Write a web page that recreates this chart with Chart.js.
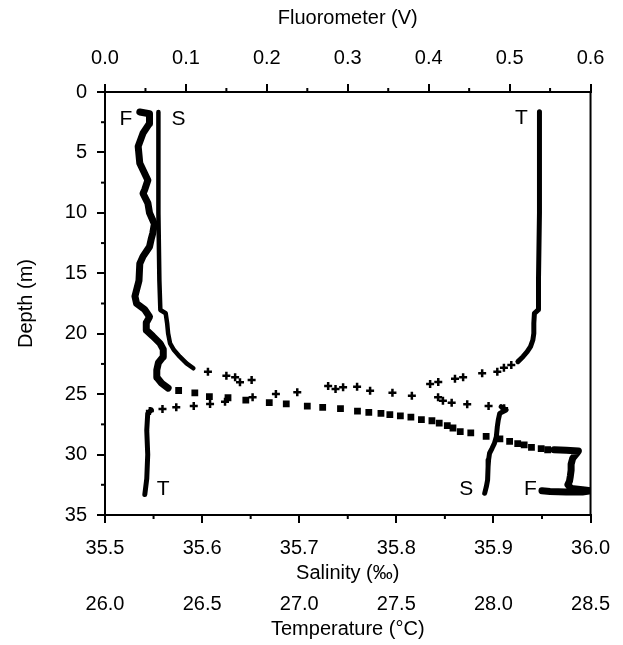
<!DOCTYPE html>
<html>
<head>
<meta charset="utf-8">
<script src="https://cdn.jsdelivr.net/npm/chart.js@4.4.1/dist/chart.umd.min.js"></script>
<style>
html,body{margin:0;padding:0;background:#fff;}
#wrap{width:623px;height:645px;}
</style>
</head>
<body>
<div id="wrap"><canvas id="c" width="623" height="645"></canvas></div>
<script>
// ---------- Fluorometer (V) ----------
const fluorUpper      = [0.043,0.055,0.055,0.047,0.041,0.043,0.053,0.049,0.047,0.053,0.055,0.061,0.059,0.057,0.055,0.047,0.043,0.042,0.037,0.039,0.049,0.055,0.051,0.051,0.059,0.068,0.072,0.072,0.066,0.064,0.064,0.070,0.078];
const fluorUpperDepth = [1.65,1.8,2.6,3.4,4.5,5.9,7.3,8.1,8.4,9.2,10.0,10.9,11.7,12.2,12.8,13.6,14.2,15.6,16.9,17.5,18.0,18.6,19.1,19.7,20.2,20.8,21.3,21.9,22.4,23.0,23.6,24.1,24.5];
const fluorMid        = [0.091,0.111,0.129,0.152,0.174,0.203,0.224,0.250,0.269,0.291,0.312,0.326,0.341,0.352,0.365,0.378,0.391,0.404,0.413,0.423,0.430,0.439,0.452,0.471,0.488,0.500,0.510,0.518,0.527,0.539,0.547];
const fluorMidDepth   = [24.7,24.9,25.2,25.3,25.5,25.7,25.8,26.0,26.1,26.2,26.4,26.5,26.6,26.7,26.8,26.9,27.1,27.2,27.4,27.6,27.8,28.1,28.2,28.5,28.7,28.9,29.1,29.2,29.4,29.5,29.6];
const fluorLower      = [0.555,0.570,0.585,0.583,0.578,0.576,0.576,0.575,0.574,0.572,0.576,0.590,0.600,0.590,0.570,0.550,0.540];
const fluorLowerDepth = [29.6,29.65,29.7,29.9,30.3,30.8,31.3,31.8,32.2,32.5,32.8,32.9,33.0,33.1,33.1,33.05,33.0];

// ---------- Salinity (‰) ----------
const salUpper      = [35.555,35.555,35.555,35.556,35.557,35.5625,35.564,35.565,35.567,35.571,35.577,35.584,35.591];
const salUpperDepth = [1.65,5.0,10.0,15.6,18.04,18.31,19.14,19.97,20.80,21.35,21.90,22.45,22.86];
const salMid        = [35.606,35.625,35.634,35.651,35.639,35.773,35.796,35.816,35.843,35.848,35.857,35.873,35.895,35.911];
const salMidDepth   = [23.14,23.47,23.61,23.83,24.02,24.71,24.88,25.13,25.26,25.54,25.71,25.84,25.98,26.17];
const salLower      = [35.908,35.913,35.9065,35.905,35.904,35.903,35.901,35.8986,35.896,35.895,35.8945,35.894,35.8927,35.891];
const salLowerDepth = [26.04,26.31,26.59,27.14,27.69,28.52,29.07,29.48,29.89,30.45,31.00,32.10,32.66,33.20];

// ---------- Temperature (°C) ----------
const tempUpper      = [28.237,28.237,28.237,28.232,28.232,28.211,28.208,28.208,28.203,28.191,28.174,28.152,28.126];
const tempUpperDepth = [1.63,5.0,10.0,15.6,18.0,18.31,19.14,19.97,20.52,21.07,21.49,21.90,22.31];
const tempMid        = [28.092,28.054,28.020,27.942,27.844,27.802,27.716,27.674,27.298,27.226,27.187,27.149,26.990,26.880,26.760,26.618,26.541,26.457,26.367,26.296,26.231];
const tempMidDepth   = [22.59,22.81,23.14,23.27,23.61,23.72,23.99,24.16,24.38,24.43,24.57,24.33,24.85,24.99,25.26,25.62,25.81,25.98,26.09,26.23,26.39];
const tempLower      = [26.239,26.220,26.215,26.220,26.215,26.205];
const tempLowerDepth = [26.31,26.6,28.0,30.0,32.0,33.3];

// ---------- Axis ranges / ticks ----------
const depthTicks = [0,5,10,15,20,25,30,35];
const fluorTicks = [0.0,0.1,0.2,0.3,0.4,0.5,0.6];
const salTicks   = [35.5,35.6,35.7,35.8,35.9,36.0];
const tempTicks  = [26.0,26.5,27.0,27.5,28.0,28.5];

// ---------- In-plot curve labels (salinity axis units, depth) ----------
const curveLabelText  = ['F','S','T','T','S','F'];
const curveLabelSal   = [35.5215,35.5758,35.9288,35.5599,35.8719,35.9380];
const curveLabelDepth = [2.28,2.28,2.20,32.85,32.85,32.85];

const pts = (xs, ys) => xs.map((v, i) => ({x: v, y: ys[i]}));

const FONT = "'Liberation Sans', Arial, Helvetica, sans-serif";
const FS = 20;
Chart.defaults.font.family = FONT;
Chart.defaults.font.size = FS;
Chart.defaults.color = '#000';

const lineDs = (data, axis, w) => ({
  data, xAxisID: axis, yAxisID: 'y', showLine: true, borderColor: '#000',
  backgroundColor: '#000', borderWidth: w, pointRadius: 0, borderJoinStyle: 'round',
  borderCapStyle: 'round', tension: 0
});
const markDs = (data, axis, style, r, bw) => ({
  data, xAxisID: axis, yAxisID: 'y', showLine: false, pointStyle: style,
  pointRadius: r, pointBorderWidth: bw, borderColor: '#000', backgroundColor: '#000',
  pointBorderColor: '#000', pointBackgroundColor: '#000'
});

const boxAndMinor = {
  id: 'boxAndMinor',
  afterDraw(chart) {
    const {ctx, chartArea: a, scales} = chart;
    ctx.save();
    ctx.strokeStyle = '#000';
    ctx.lineWidth = 2;
    ctx.beginPath();
    ctx.moveTo(a.right, a.top - 1); ctx.lineTo(a.right, a.bottom + 1);
    ctx.stroke();
    const minor = (scale, dir) => {
      const t = scale.ticks;
      for (let i = 0; i < t.length - 1; i++) {
        const mid = (t[i].value + t[i+1].value) / 2;
        const p = scale.getPixelForValue(mid);
        ctx.beginPath();
        if (dir === 'top') { ctx.moveTo(p, a.top); ctx.lineTo(p, a.top - 4); }
        if (dir === 'bottom') { ctx.moveTo(p, a.bottom); ctx.lineTo(p, a.bottom + 4); }
        if (dir === 'left') { ctx.moveTo(a.left, p); ctx.lineTo(a.left - 4, p); }
        ctx.stroke();
      }
    };
    minor(scales.xF, 'top');
    minor(scales.x, 'bottom');
    minor(scales.y, 'left');
    // curve labels
    ctx.fillStyle = '#000';
    ctx.font = "21px " + FONT;
    ctx.textAlign = 'center';
    ctx.textBaseline = 'middle';
    curveLabelText.forEach((s, i) => {
      ctx.fillText(s, scales.x.getPixelForValue(curveLabelSal[i]), scales.y.getPixelForValue(curveLabelDepth[i]));
    });
    ctx.restore();
  }
};

const tickList = arr => (scale) => { scale.ticks = arr.map(v => ({value: v})); };

new Chart(document.getElementById('c'), {
  type: 'scatter',
  data: {
    datasets: [
      lineDs(pts(fluorUpper, fluorUpperDepth), 'xF', 7),
      markDs(pts(fluorMid, fluorMidDepth), 'xF', 'rect', 4.8, 0),
      lineDs(pts(fluorLower, fluorLowerDepth), 'xF', 7),
      lineDs(pts(salUpper, salUpperDepth), 'x', 4.5),
      markDs(pts(salMid, salMidDepth), 'x', 'cross', 4, 2.5),
      lineDs(pts(salLower, salLowerDepth), 'x', 5),
      lineDs(pts(tempUpper, tempUpperDepth), 'xT', 5),
      markDs(pts(tempMid, tempMidDepth), 'xT', 'cross', 4, 2.5),
      lineDs(pts(tempLower, tempLowerDepth), 'xT', 5)
    ]
  },
  options: {
    responsive: false,
    devicePixelRatio: 1,
    animation: false,
    layout: {padding: {left: 0, right: 30, top: 0, bottom: 0}},
    plugins: {legend: {display: false}, tooltip: {enabled: false}},
    scales: {
      y: {
        position: 'left', reverse: true, min: 0, max: 35,
        afterBuildTicks: tickList(depthTicks),
        ticks: {padding: 10, font: {size: FS}, callback: v => String(v)},
        grid: {drawOnChartArea: false, tickLength: 8, lineWidth: 2, color: '#000'},
        border: {display: true, color: '#000', width: 2},
        title: {display: true, text: 'Depth (m)', font: {size: FS}, padding: {top: 14, bottom: 0}},
        afterFit: s => { s.width = 105; }
      },
      xF: {
        position: 'top', min: 0, max: 0.6,
        afterBuildTicks: tickList(fluorTicks),
        ticks: {padding: 14, font: {size: FS}, maxRotation: 0, callback: v => Number(v).toFixed(1)},
        grid: {drawOnChartArea: false, tickLength: 8, lineWidth: 2, color: '#000'},
        border: {display: true, color: '#000', width: 2},
        title: {display: true, text: 'Fluorometer (V)', font: {size: FS}, padding: {top: 6, bottom: 0}},
        afterFit: s => { s.height = 92; }
      },
      x: {
        position: 'bottom', min: 35.5, max: 36.0,
        afterBuildTicks: tickList(salTicks),
        ticks: {padding: 13, font: {size: FS}, maxRotation: 0, callback: v => Number(v).toFixed(1)},
        grid: {drawOnChartArea: false, tickLength: 8, lineWidth: 2, color: '#000'},
        border: {display: true, color: '#000', width: 2},
        title: {display: true, text: 'Salinity (‰)', font: {size: FS}, padding: {top: 0, bottom: 0}},
        afterFit: s => { s.height = 70; }
      },
      xT: {
        position: 'bottom', min: 26.0, max: 28.5,
        afterBuildTicks: tickList(tempTicks),
        ticks: {padding: 7, font: {size: FS}, maxRotation: 0, callback: v => Number(v).toFixed(1)},
        grid: {display: false, drawTicks: false, drawOnChartArea: false},
        border: {display: false},
        title: {display: true, text: 'Temperature (°C)', font: {size: FS}, padding: {top: 0, bottom: 4}},
        afterFit: s => { s.height = 60; }
      }
    }
  },
  plugins: [boxAndMinor]
});
</script>
</body>
</html>
